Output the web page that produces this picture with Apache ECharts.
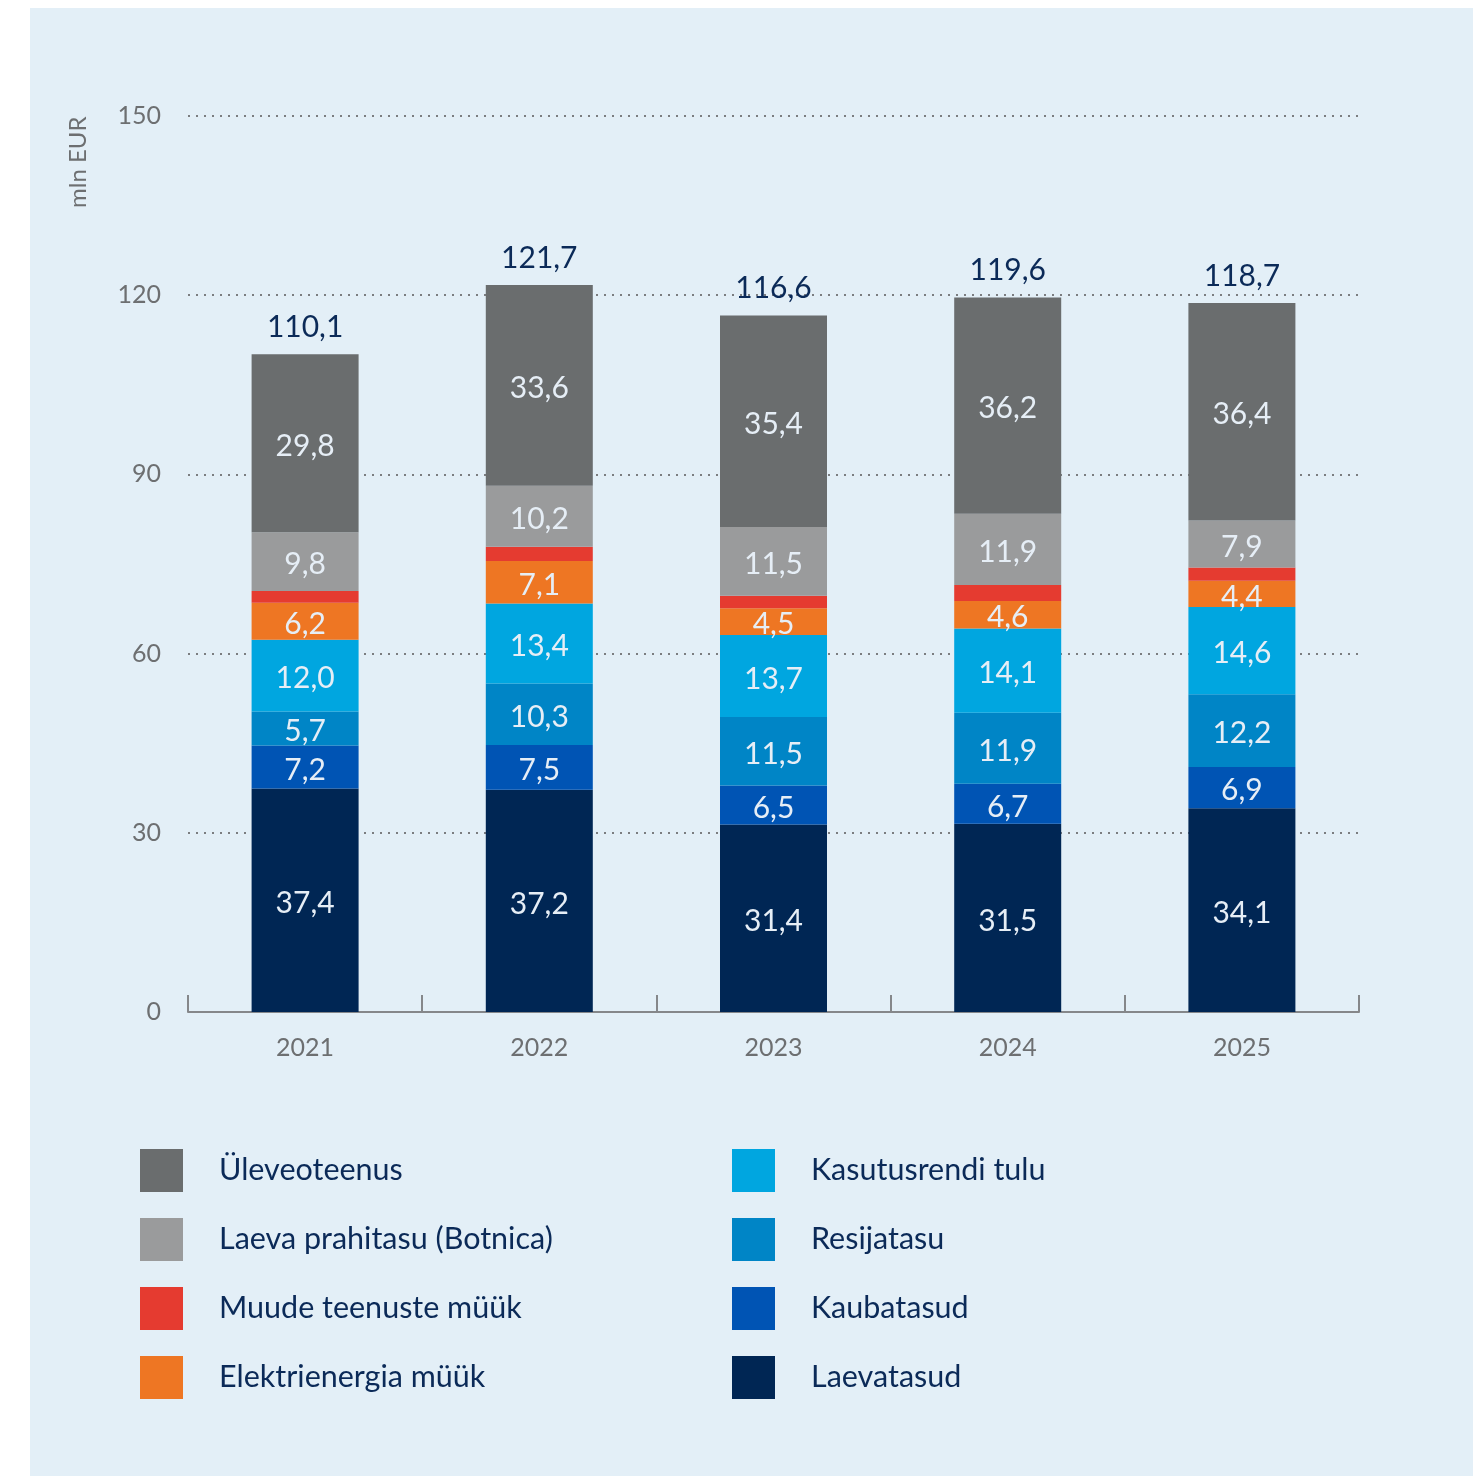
<!DOCTYPE html>
<html>
<head>
<meta charset="utf-8">
<script src="https://cdn.jsdelivr.net/npm/echarts@6/dist/echarts.min.js"></script>
<style>
  html, body { margin: 0; padding: 0; background: #ffffff; }
  #panel { position: absolute; left: 30px; top: 8px; width: 1443px; height: 1468px; background: #e3eff7; }
  #chart { position: absolute; left: 0; top: 0; width: 1473px; height: 1476px; }
</style>
</head>
<body>
<div id="panel"></div>
<div id="chart"></div>
<script>
// Revenue by source, mln EUR
const years = ['2021', '2022', '2023', '2024', '2025'];

const laevatasud = [37.4, 37.2, 31.4, 31.5, 34.1];
const kaubatasud = [7.2, 7.5, 6.5, 6.7, 6.9];
const resijatasu = [5.7, 10.3, 11.5, 11.9, 12.2];
const kasutusrendiTulu = [12.0, 13.4, 13.7, 14.1, 14.6];
const elektrienergiaMyyk = [6.2, 7.1, 4.5, 4.6, 4.4];
const muudeTeenusteMyyk = [2.0, 2.4, 2.1, 2.7, 2.2];
const laevaPrahitasu = [9.8, 10.2, 11.5, 11.9, 7.9];
const yleveoteenus = [29.8, 33.6, 35.4, 36.2, 36.4];
const totals = [110.1, 121.7, 116.6, 119.6, 118.7];

const yTicks = [0, 30, 60, 90, 120, 150];

const FONT = 'Lato';
const NAVY_TEXT = '#0b2a58';
const GREY_TEXT = '#6d6f71';

const fmt = v => v.toFixed(1).replace('.', ',');

// bottom-to-top stacking order
const stackSeries = [
  { name: 'Laevatasud', data: laevatasud, color: '#002654', label: true },
  { name: 'Kaubatasud', data: kaubatasud, color: '#0054b4', label: true },
  { name: 'Resijatasu', data: resijatasu, color: '#0085c6', label: true },
  { name: 'Kasutusrendi tulu', data: kasutusrendiTulu, color: '#00a6e0', label: true },
  { name: 'Elektrienergia müük', data: elektrienergiaMyyk, color: '#ee7623', label: true },
  { name: 'Muude teenuste müük', data: muudeTeenusteMyyk, color: '#e53b30', label: false },
  { name: 'Laeva prahitasu (Botnica)', data: laevaPrahitasu, color: '#9a9b9c', label: true },
  { name: 'Üleveoteenus', data: yleveoteenus, color: '#6a6d6e', label: true }
];

const series = stackSeries.map(s => ({
  name: s.name,
  type: 'bar',
  stack: 'total',
  barWidth: 107,
  itemStyle: { color: s.color },
  label: {
    show: s.label,
    position: 'inside',
    offset: [0, 3],
    color: '#e6eef6',
    fontFamily: FONT,
    fontSize: 30,
    formatter: p => fmt(p.value)
  },
  data: s.data
}));

// zero-height cap carrying the total above each column
series.push({
  name: 'Kokku',
  type: 'bar',
  stack: 'total',
  barWidth: 107,
  itemStyle: { color: 'transparent' },
  label: {
    show: true,
    position: 'top',
    distance: 12,
    color: NAVY_TEXT,
    fontFamily: FONT,
    fontSize: 30,
    formatter: p => fmt(totals[p.dataIndex])
  },
  data: totals.map(() => 0)
});

const legendCommon = {
  orient: 'vertical',
  top: 1149,
  padding: 0,
  itemWidth: 43,
  itemHeight: 43,
  itemGap: 26,
  icon: 'rect',
  selectedMode: false,
  textStyle: {
    color: NAVY_TEXT,
    fontFamily: FONT,
    fontSize: 30.5,
    padding: [3, 0, 0, 31]
  }
};

const chart = echarts.init(document.getElementById('chart'), null, { renderer: 'canvas' });
chart.setOption({
  backgroundColor: 'transparent',
  animation: false,
  grid: { left: 188, right: 114, top: 116, bottom: 464, containLabel: false },
  legend: [
    Object.assign({}, legendCommon, {
      left: 140,
      data: ['Üleveoteenus', 'Laeva prahitasu (Botnica)', 'Muude teenuste müük', 'Elektrienergia müük']
    }),
    Object.assign({}, legendCommon, {
      left: 732,
      data: ['Kasutusrendi tulu', 'Resijatasu', 'Kaubatasud', 'Laevatasud']
    })
  ],
  xAxis: {
    type: 'category',
    data: years,
    boundaryGap: true,
    axisLine: { show: true, lineStyle: { color: '#85878a', width: 2 } },
    axisTick: { show: true, inside: true, length: 17, alignWithLabel: false, lineStyle: { color: '#85878a', width: 2 } },
    axisLabel: { color: GREY_TEXT, fontFamily: FONT, fontSize: 25, margin: 23 }
  },
  yAxis: {
    type: 'value',
    min: yTicks[0],
    max: yTicks[yTicks.length - 1],
    interval: yTicks[1] - yTicks[0],
    axisLine: { show: false },
    axisTick: { show: false },
    axisLabel: { color: GREY_TEXT, fontFamily: FONT, fontSize: 25, margin: 27, padding: [4, 0, 0, 0] },
    splitLine: {
      lineStyle: { color: '#7b7d80', width: 2, type: [2, 6] }
    }
  },
  graphic: [{
    type: 'text',
    x: 66,
    y: 208,
    rotation: Math.PI / 2,
    style: {
      text: 'mln EUR',
      fill: GREY_TEXT,
      font: '24px ' + FONT,
      textAlign: 'left',
      textVerticalAlign: 'top'
    }
  }],
  series: series
});
</script>
</body>
</html>
